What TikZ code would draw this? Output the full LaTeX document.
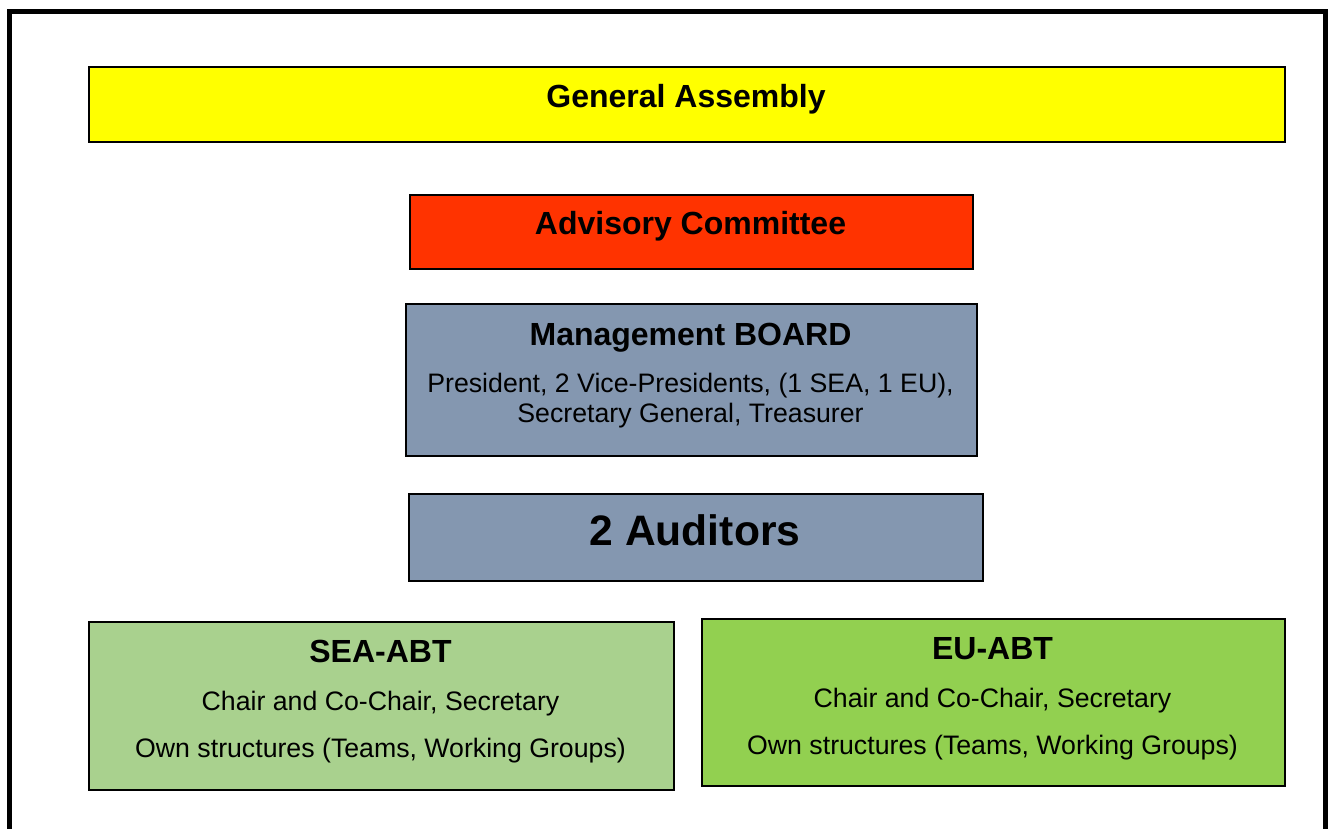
\documentclass[tikz,border=0pt]{standalone}
\usepackage{fontspec}
\setmainfont{Liberation Sans}
\definecolor{gaYellow}{HTML}{FFFF00}
\definecolor{acRed}{HTML}{FF3300}
\definecolor{mbBlue}{HTML}{8497B0}
\definecolor{seaGreen}{HTML}{A9D18E}
\definecolor{euGreen}{HTML}{92D050}
\begin{document}
\begin{tikzpicture}[x=1pt,y=-1pt,
  orgbox/.style={draw=black,line width=1.6pt,inner sep=0pt,anchor=north west},
  titletext/.style={font=\fontsize{32}{36}\selectfont\bfseries,inner sep=0pt,anchor=base},
  bodytext/.style={font=\fontsize{26.7}{30}\selectfont,inner sep=0pt,anchor=base},
  bigtext/.style={font=\fontsize{42.6}{48}\selectfont\bfseries,inner sep=0pt,anchor=base}]
\useasboundingbox (0,0) rectangle (1331,829);
\clip (0,0) rectangle (1331,829);
\fill[white] (0,0) rectangle (1331,829);
% outer frame, open at the bottom
\draw[line width=5pt] (9.5,860) -- (9.5,11.5) -- (1325.5,11.5) -- (1325.5,860);

% boxes
\node[orgbox,fill=gaYellow,minimum width=1196pt,minimum height=75pt] (ga) at (88,66) {};
\node[orgbox,fill=acRed,minimum width=563pt,minimum height=74pt] (ac) at (409,194) {};
\node[orgbox,fill=mbBlue,minimum width=571pt,minimum height=152pt] (mb) at (405,303) {};
\node[orgbox,fill=mbBlue,minimum width=574pt,minimum height=87pt] (aud) at (408,493) {};
\node[orgbox,fill=seaGreen,minimum width=585pt,minimum height=168pt] (sea) at (88,621) {};
\node[orgbox,fill=euGreen,minimum width=583pt,minimum height=167pt] (eu) at (701,618) {};

% texts (placed on their baselines)
\node[titletext] (gaT) at (686,108) {General Assembly};
\node[titletext] (acT) at (690.5,235) {Advisory Committee};
\node[titletext] (mbT) at (690.5,345) {Management BOARD};
\node[bodytext] (mbL1) at (690.5,392) {President, 2 Vice-Presidents, (1 SEA, 1 EU),};
\node[bodytext] (mbL2) at (690.5,422) {Secretary General, Treasurer};
\node[bigtext] (audT) at (695,545) {2 Auditors};
\node[titletext] (seaT) at (380.5,662) {SEA-ABT};
\node[bodytext] (seaL1) at (380.5,710) {Chair and Co-Chair, Secretary};
\node[bodytext] (seaL2) at (380.5,757) {Own structures (Teams, Working Groups)};
\node[titletext] (euT) at (992.5,659) {EU-ABT};
\node[bodytext] (euL1) at (992.5,707) {Chair and Co-Chair, Secretary};
\node[bodytext] (euL2) at (992.5,754) {Own structures (Teams, Working Groups)};
\end{tikzpicture}
\end{document}
